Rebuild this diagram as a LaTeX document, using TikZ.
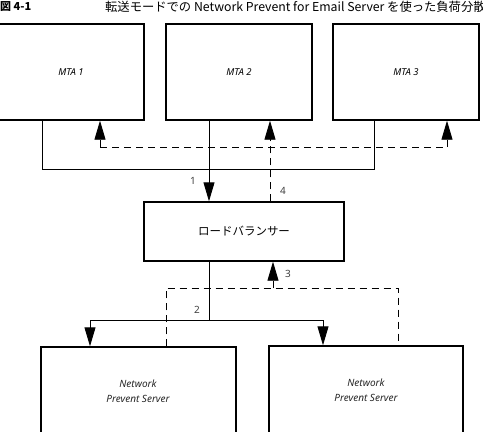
\documentclass[tikz,border=0pt]{standalone}
\usepackage{fontspec}
\setmainfont{Noto Sans}
\newfontfamily\jp{Noto Sans CJK JP}
\usetikzlibrary{arrows.meta}
\begin{document}
\begin{tikzpicture}[x=1pt,y=-1pt,
  box/.style={draw,line width=1.4pt,rectangle,inner sep=0pt},
  conn/.style={line width=0.9pt},
  dconn/.style={line width=0.9pt,dash pattern=on 7pt off 5pt},
  tip/.style={-{Triangle[length=19pt,width=11pt]}},
  lbl/.style={font=\fontsize{10}{11}\selectfont,text=black!75},
  nptext/.style={font=\itshape\fontsize{10}{15}\selectfont,align=center,text=black!85},
  every node/.style={inner sep=0pt}]
\useasboundingbox (0,0) rectangle (483,432);
\clip (0,0) rectangle (483,432);
% title
\node[anchor=west,font=\jp\bfseries\fontsize{11}{12}\selectfont] (fig) at (0,7) {図 4-1};
\node[anchor=west,font=\jp\fontsize{12.3}{13}\selectfont] (title) at (105,7) {転送モードでの Network Prevent for Email Server を使った負荷分散};
% boxes
\node[box,minimum width=146pt,minimum height=96pt,font=\itshape\fontsize{9.5}{10}\selectfont] (mta1) at (71,72) {MTA 1};
\node[box,minimum width=146pt,minimum height=96pt,font=\itshape\fontsize{9.5}{10}\selectfont] (mta2) at (239,72) {MTA 2};
\node[box,minimum width=146pt,minimum height=96pt,font=\itshape\fontsize{9.5}{10}\selectfont] (mta3) at (406,72) {MTA 3};
\node[box,minimum width=200pt,minimum height=59pt,font=\jp\fontsize{11.5}{12}\selectfont] (lb) at (244,231.5) {ロードバランサー};
\node[box,minimum width=195pt,minimum height=100pt] (np1) at (138.5,397) {};
\node[box,minimum width=194pt,minimum height=100pt] (np2) at (366,396) {};
\node[nptext] (np1t) at (138,391) {Network\\Prevent Server};
\node[nptext] (np2t) at (366,390) {Network\\Prevent Server};
% coordinates
\coordinate (a1) at (mta1.south -| 42,0);
\coordinate (a3) at (mta3.south -| 374,0);
\coordinate (s1) at (42,169);
\coordinate (s3) at (374,169);
\coordinate (m2) at (mta2.south -| 209,0);
\coordinate (lbt) at (lb.north -| 209,0);
\coordinate (lbt4) at (lb.north -| 270,0);
\coordinate (m2r) at (mta2.south -| 270,0);
\coordinate (m1r) at (mta1.south -| 100,0);
\coordinate (m3r) at (mta3.south -| 447,0);
\coordinate (d1) at (100,147);
\coordinate (d3) at (447,147);
\coordinate (lbb) at (lb.south -| 209,0);
\coordinate (j2) at (209,320);
\coordinate (h1) at (90,320);
\coordinate (h2) at (323,320);
\coordinate (n1t) at (np1.north -| 90,0);
\coordinate (n2t) at (np2.north -| 323,0);
\coordinate (n1d) at (np1.north -| 166,0);
\coordinate (n2d) at (np2.north -| 398,0);
\coordinate (e1) at (166,288);
\coordinate (e2) at (398,288);
\coordinate (e3) at (273,288);
\coordinate (lbb3) at (lb.south -| 273,0);
% top connectors
\draw[conn] (a1) -- (s1) -- (s3) -- (a3);
\draw[conn,tip] (m2) -- (lbt);
\draw[dconn] (d1) -- (d3);
\draw[dconn,tip] (lbt4) -- (m2r);
\draw[dconn,tip] (d1) -- (m1r);
\draw[dconn,tip] (d3) -- (m3r);
% bottom connectors
\draw[conn] (lbb) -- (j2);
\draw[conn] (h1) -- (h2);
\draw[conn,tip] (h1) -- (n1t);
\draw[conn,tip] (h2) -- (n2t);
\draw[dconn] (n1d) -- (e1) -- (e2) -- (n2d);
\draw[dconn,tip] (e3) -- (lbb3);
% labels
\node[lbl] (l1) at (193,181) {1};
\node[lbl] (l4) at (283,191) {4};
\node[lbl] (l3) at (288,274) {3};
\node[lbl] (l2) at (197,310) {2};
\end{tikzpicture}
\end{document}
